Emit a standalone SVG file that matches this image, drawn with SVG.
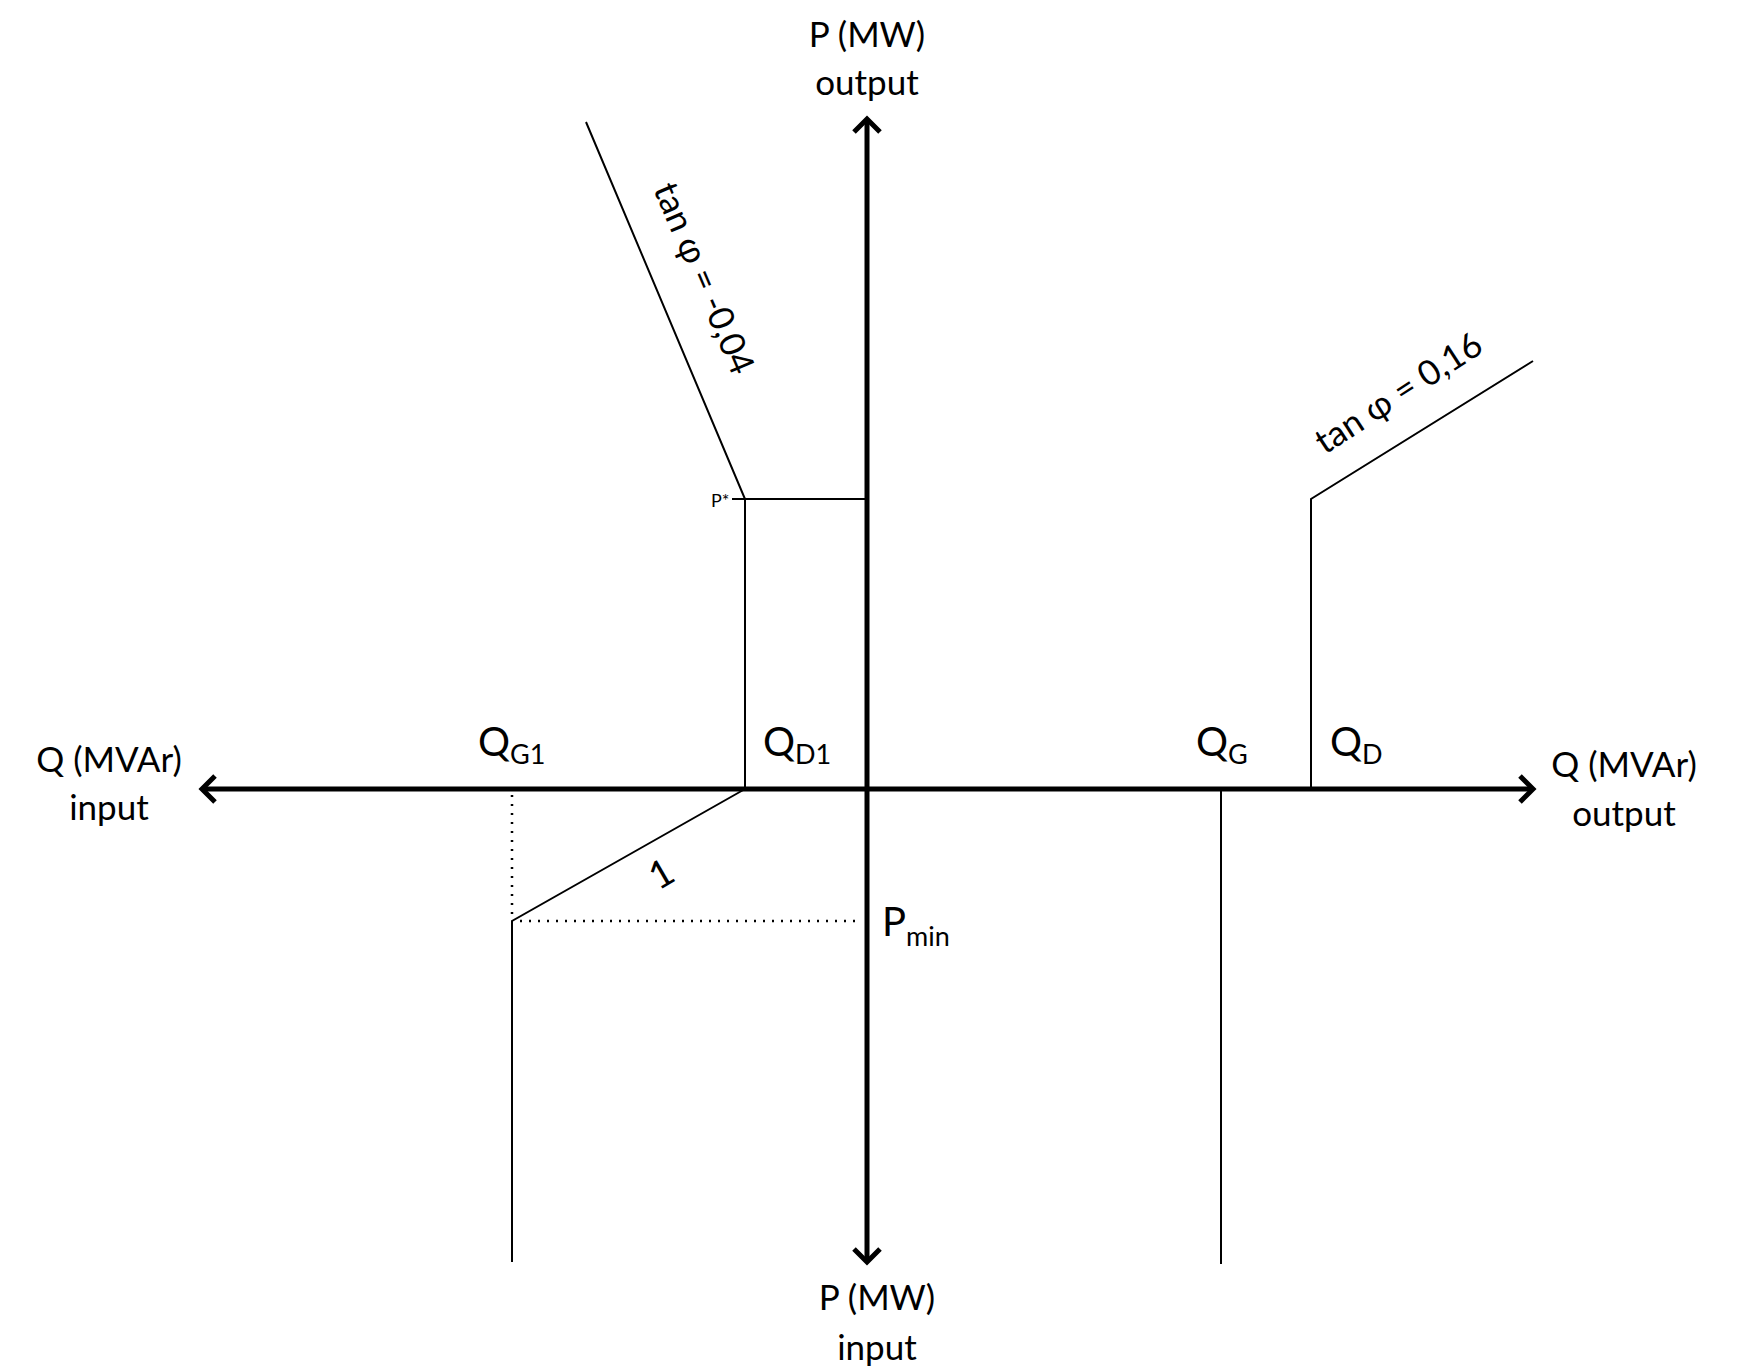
<svg xmlns="http://www.w3.org/2000/svg" width="1738" height="1370" viewBox="0 0 1738 1370">
<style>
text{font-family:Lato,"Liberation Sans",sans-serif;fill:#000}
.ax{stroke:#000;stroke-width:5;fill:none}
.ln{stroke:#000;stroke-width:2;fill:none}
.dt{stroke:#000;stroke-width:2.5;fill:none;stroke-dasharray:2 7}
.lb{font-size:35px}
.q{font-size:40px}
.s{font-size:27px}
</style>
<rect width="1738" height="1370" fill="#fff"/>
<g id="connectors">
<line class="ax" x1="202" y1="789" x2="1533" y2="789"/>
<line class="ax" x1="867" y1="119" x2="867" y2="1262"/>
<polyline class="ax" points="215,776 202,789 215,802"/>
<polyline class="ax" points="1520,776 1533,789 1520,802"/>
<polyline class="ax" points="854,132 867,119 880,132"/>
<polyline class="ax" points="854,1249 867,1262 880,1249"/>
<polyline class="ln" points="586,122 745,499 745,789"/>
<line class="ln" x1="745" y1="499" x2="867" y2="499"/>
<line class="ln" x1="732" y1="499" x2="745" y2="499"/>
<polyline class="ln" points="745,789 512,921 512,1262"/>
<line class="dt" x1="512" y1="795" x2="512" y2="918"/>
<line class="dt" x1="520" y1="921" x2="860" y2="921"/>
<line class="ln" x1="1221" y1="789" x2="1221" y2="1264"/>
<polyline class="ln" points="1311,789 1311,499 1533,361"/>
</g>
<g id="axis-labels">
<text class="lb" x="867" y="47" text-anchor="middle">P (MW)</text>
<text class="lb" x="867" y="95" text-anchor="middle">output</text>
<text class="lb" x="877" y="1310" text-anchor="middle">P (MW)</text>
<text class="lb" x="877" y="1360" text-anchor="middle">input</text>
<text class="lb" x="109" y="772" text-anchor="middle">Q (MVAr)</text>
<text class="lb" x="109" y="820" text-anchor="middle">input</text>
<text class="lb" x="1624" y="777" text-anchor="middle">Q (MVAr)</text>
<text class="lb" x="1624" y="826" text-anchor="middle">output</text>
</g>
<g id="point-labels">
<text x="478" y="756"><tspan class="q">Q</tspan><tspan class="s" dy="8">G1</tspan></text>
<text x="763" y="756"><tspan class="q">Q</tspan><tspan class="s" dy="8">D1</tspan></text>
<text x="1196" y="756"><tspan class="q">Q</tspan><tspan class="s" dy="8">G</tspan></text>
<text x="1330" y="756"><tspan class="q">Q</tspan><tspan class="s" dy="8">D</tspan></text>
<text x="882" y="936"><tspan class="q">P</tspan><tspan class="s" dy="10">min</tspan></text>
<text x="711" y="507" font-size="18">P*</text>
<text x="0" y="0" font-size="38" font-family="Liberation Serif,serif" transform="translate(663,877) rotate(-30)" text-anchor="middle" dominant-baseline="middle">1</text>
<text class="lb" x="0" y="0" font-size="36" text-anchor="middle" transform="translate(693,283) rotate(67)">tan φ = -0,04</text>
<text class="lb" x="0" y="0" font-size="37" text-anchor="middle" transform="translate(1405,403) rotate(-33)">tan φ = 0,16</text>
</g>
</svg>
